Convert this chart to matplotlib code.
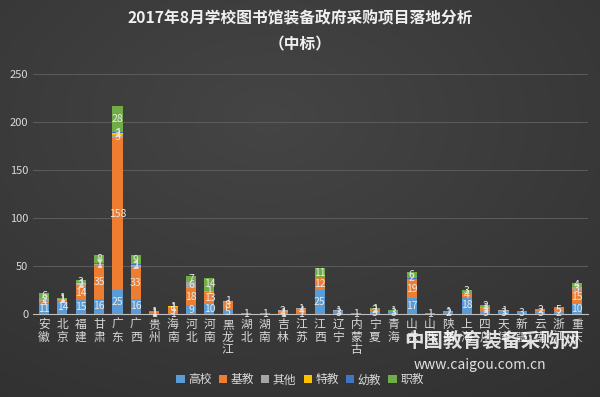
import numpy as np
import matplotlib
matplotlib.use("Agg")
import matplotlib.pyplot as plt

plt.rcParams['font.family'] = ['Noto Sans CJK SC', 'DejaVu Sans']

provinces = ['安徽', '北京', '福建', '甘肃', '广东', '广西', '贵州', '海南', '河北', '河南',
             '黑龙江', '湖北', '湖南', '吉林', '江苏', '江西', '辽宁', '内蒙古', '宁夏', '青海',
             '山东', '山西', '陕西', '上海', '四川', '天津', '新疆', '云南', '浙江', '重庆']

series_names = ['高校', '基教', '其他', '特教', '幼教', '职教']
gaoxiao = [11, 14, 15, 16, 25, 16, 1, 1, 9, 10, 5, 1, 1, 1, 1, 25, 3, 1, 3, 3, 17, 1, 2, 18, 3, 3, 3, 3, 2, 10]
jijiao  = [3, 1, 14, 35, 158, 33, 1, 5, 18, 13, 8, 0, 0, 1, 4, 12, 0, 0, 2, 0, 19, 0, 1, 4, 3, 0, 0, 2, 5, 15]
qita    = [2, 1, 2, 1, 3, 2, 0, 1, 6, 1, 1, 0, 0, 2, 1, 0, 1, 0, 0, 0, 0, 0, 0, 0, 1, 1, 0, 0, 0, 3]
tejiao  = [0, 0, 1, 0, 2, 0, 0, 1, 0, 0, 0, 0, 0, 0, 0, 0, 0, 0, 0, 0, 0, 0, 0, 0, 0, 0, 0, 0, 0, 0]
youjiao = [0, 0, 0, 1, 1, 1, 0, 0, 0, 0, 0, 0, 0, 0, 0, 0, 0, 0, 0, 0, 2, 0, 0, 0, 0, 0, 0, 0, 0, 0]
zhijiao = [6, 1, 3, 8, 28, 9, 1, 0, 7, 14, 0, 0, 0, 0, 0, 11, 0, 0, 1, 1, 6, 0, 0, 3, 2, 0, 0, 0, 0, 4]

colors = ['#5B9BD5', '#ED7D31', '#A5A5A5', '#FFC000', '#4472C4', '#70AD47']
data = [gaoxiao, jijiao, qita, tejiao, youjiao, zhijiao]

fig = plt.figure(figsize=(6, 3.97), dpi=100)
bg = fig.add_axes([0, 0, 1, 1])
yy, xx = np.mgrid[0:1:200j, 0:1:300j]
grad = 0.27 - 0.09 * np.sqrt((xx - 0.45) ** 2 + (yy - 0.3) ** 2)
bg.imshow(np.dstack([grad, grad, grad]), aspect='auto', extent=[0, 1, 0, 1])
bg.axis('off')

ax = fig.add_axes([0.055, 0.209, 0.925, 0.605])
ax.patch.set_alpha(0)
x = np.arange(len(provinces))
bottom = np.zeros(len(provinces))
for name, vals, c in zip(series_names, data, colors):
    vals = np.array(vals, dtype=float)
    ax.bar(x, vals, 0.55, bottom=bottom, color=c, label=name, zorder=3)
    for xi, v, b in zip(x, vals, bottom):
        if v > 0:
            ax.text(xi, b + v / 2, '%d' % v, ha='center', va='center',
                    fontsize=7.5, color='#e8e8e8', zorder=4)
    bottom += vals

ax.set_ylim(0, 250)
ax.set_xlim(-0.6, len(provinces) - 0.4)
ax.set_yticks(range(0, 251, 50))
ax.yaxis.grid(True, color='#5a5a5a', linewidth=0.8, zorder=0)
ax.set_xticks(x)
ax.set_xticklabels(['\n'.join(p) for p in provinces], fontsize=8.5, color='#d9d9d9',
                   linespacing=0.95, va='top')
ax.tick_params(axis='y', colors='#d9d9d9', labelsize=8, length=0)
ax.tick_params(axis='x', length=0, pad=3)
for s in ['top', 'right', 'left']:
    ax.spines[s].set_visible(False)
ax.spines['bottom'].set_color('#bfbfbf')

fig.text(0.5, 0.953, '2017年8月学校图书馆装备政府采购项目落地分析', ha='center', va='center',
         fontsize=11.3, fontweight='bold', color='#f0f0f0')
fig.text(0.5, 0.888, '（中标）', ha='center', va='center',
         fontsize=11.3, fontweight='bold', color='#f0f0f0')

fig.legend(loc='center', bbox_to_anchor=(0.5, 0.043), ncol=6, frameon=False,
           fontsize=8.5, labelcolor='#d9d9d9', handlelength=0.7, handleheight=0.7,
           handletextpad=0.3, columnspacing=0.6)

fig.text(0.82, 0.14, '中国教育装备采购网', ha='center', va='center', fontsize=14,
         fontweight='bold', color='white', alpha=0.85)
fig.text(0.80, 0.08, 'www.caigou.com.cn', ha='center', va='center', fontsize=10,
         style='italic', color='white', alpha=0.85)

fig.savefig('out.png', dpi=100, facecolor='#383838')
